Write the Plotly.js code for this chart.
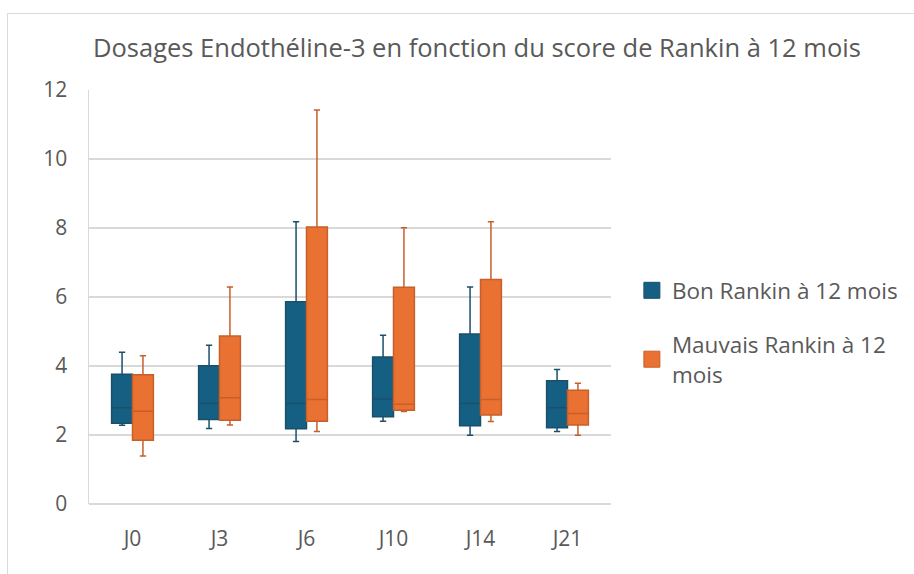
<!DOCTYPE html>
<html>
<head>
<meta charset="utf-8">
<script src="https://cdn.plot.ly/plotly-3.0.1.min.js"></script>
<style>
html,body{margin:0;padding:0;background:#fff;width:914px;height:574px;overflow:hidden;}
#chart{position:absolute;left:7px;top:13px;width:907px;height:561px;border-left:1px solid #d9d9d9;border-top:1px solid #d9d9d9;}
</style>
</head>
<body>
<div id="chart"></div>
<script>
const categories = ["J0", "J3", "J6", "J10", "J14", "J21"];

const bonName = "Bon Rankin à 12 mois";
const bonMin    = [2.28, 2.19, 1.81, 2.40, 1.99, 2.10];
const bonQ1     = [2.34, 2.45, 2.18, 2.53, 2.27, 2.21];
const bonMedian = [2.79, 2.91, 2.91, 3.04, 2.91, 2.79];
const bonQ3     = [3.76, 4.01, 5.86, 4.26, 4.93, 3.57];
const bonMax    = [4.40, 4.60, 8.18, 4.89, 6.29, 3.90];

const mauvName = "Mauvais Rankin à 12<br>mois";
const mauvMin    = [1.39, 2.29, 2.10, 2.68, 2.39, 1.99];
const mauvQ1     = [1.85, 2.43, 2.40, 2.72, 2.58, 2.29];
const mauvMedian = [2.69, 3.08, 3.03, 2.89, 3.03, 2.62];
const mauvQ3     = [3.75, 4.87, 8.03, 6.28, 6.51, 3.30];
const mauvMax    = [4.30, 6.29, 11.42, 8.01, 8.18, 3.50];

const yTicks = [0, 2, 4, 6, 8, 10, 12];

const blueFill = "#156082", blueLine = "#1a4f6c";
const orangeFill = "#E97132", orangeLine = "#c85f2a";

const traces = [
  {
    type: "box", name: bonName, x: categories,
    q1: bonQ1, median: bonMedian, q3: bonQ3,
    lowerfence: bonMin, upperfence: bonMax,
    boxpoints: false, whiskerwidth: 0.3,
    fillcolor: blueFill, showlegend: false,
    line: {color: blueLine, width: 1.5}
  },
  {
    type: "box", name: mauvName, x: categories,
    q1: mauvQ1, median: mauvMedian, q3: mauvQ3,
    lowerfence: mauvMin, upperfence: mauvMax,
    boxpoints: false, whiskerwidth: 0.3,
    fillcolor: orangeFill, showlegend: false,
    line: {color: orangeLine, width: 1.5}
  },
  {
    type: "scatter", mode: "markers", name: bonName,
    x: [null], y: [null], legendgroup: "a",
    marker: {symbol: "square", size: 18, color: blueFill, line: {color: blueLine, width: 1}}
  },
  {
    type: "scatter", mode: "markers", name: mauvName,
    x: [null], y: [null], legendgroup: "b",
    marker: {symbol: "square", size: 18, color: orangeFill, line: {color: orangeLine, width: 1}}
  }
];

const layout = {
  width: 907, height: 561,
  margin: {l: 81, r: 302, t: 76, b: 71, pad: 0},
  paper_bgcolor: "#ffffff",
  plot_bgcolor: "#ffffff",
  font: {family: "Open Sans, Noto Sans, sans-serif", color: "#595959", size: 21},
  title: {
    text: "Dosages Endothéline-3 en fonction du score de Rankin à 12 mois",
    font: {family: "Open Sans, Noto Sans, sans-serif", size: 25.5, color: "#595959"},
    x: 0.517, xanchor: "center", y: 0.94, yanchor: "middle"
  },
  boxmode: "group",
  boxgap: 0.52,
  boxgroupgap: 0,
  xaxis: {
    type: "category",
    categoryarray: categories,
    showgrid: false,
    showline: false,
    zeroline: false,
    ticks: "",
    ticklabelstandoff: 20,
    tickfont: {size: 21, color: "#595959"}
  },
  yaxis: {
    range: [0, 12],
    tickvals: yTicks,
    ticktext: yTicks.map(String),
    showgrid: true,
    gridcolor: "#d9d9d9",
    gridwidth: 1.5,
    zeroline: true,
    zerolinecolor: "#d9d9d9",
    zerolinewidth: 1.5,
    showline: true,
    linecolor: "#d9d9d9",
    linewidth: 1.5,
    ticks: "",
    ticklabelstandoff: 16,
    tickfont: {size: 21, color: "#595959"}
  },
  legend: {
    x: 1.04, xanchor: "left",
    y: 0.415, yanchor: "middle",
    font: {size: 22.5, color: "#595959"},
    tracegroupgap: 22,
    traceorder: "grouped",
    bgcolor: "rgba(0,0,0,0)"
  },
  showlegend: true
};

Plotly.newPlot("chart", traces, layout, {displayModeBar: false, staticPlot: true});
</script>
</body>
</html>
